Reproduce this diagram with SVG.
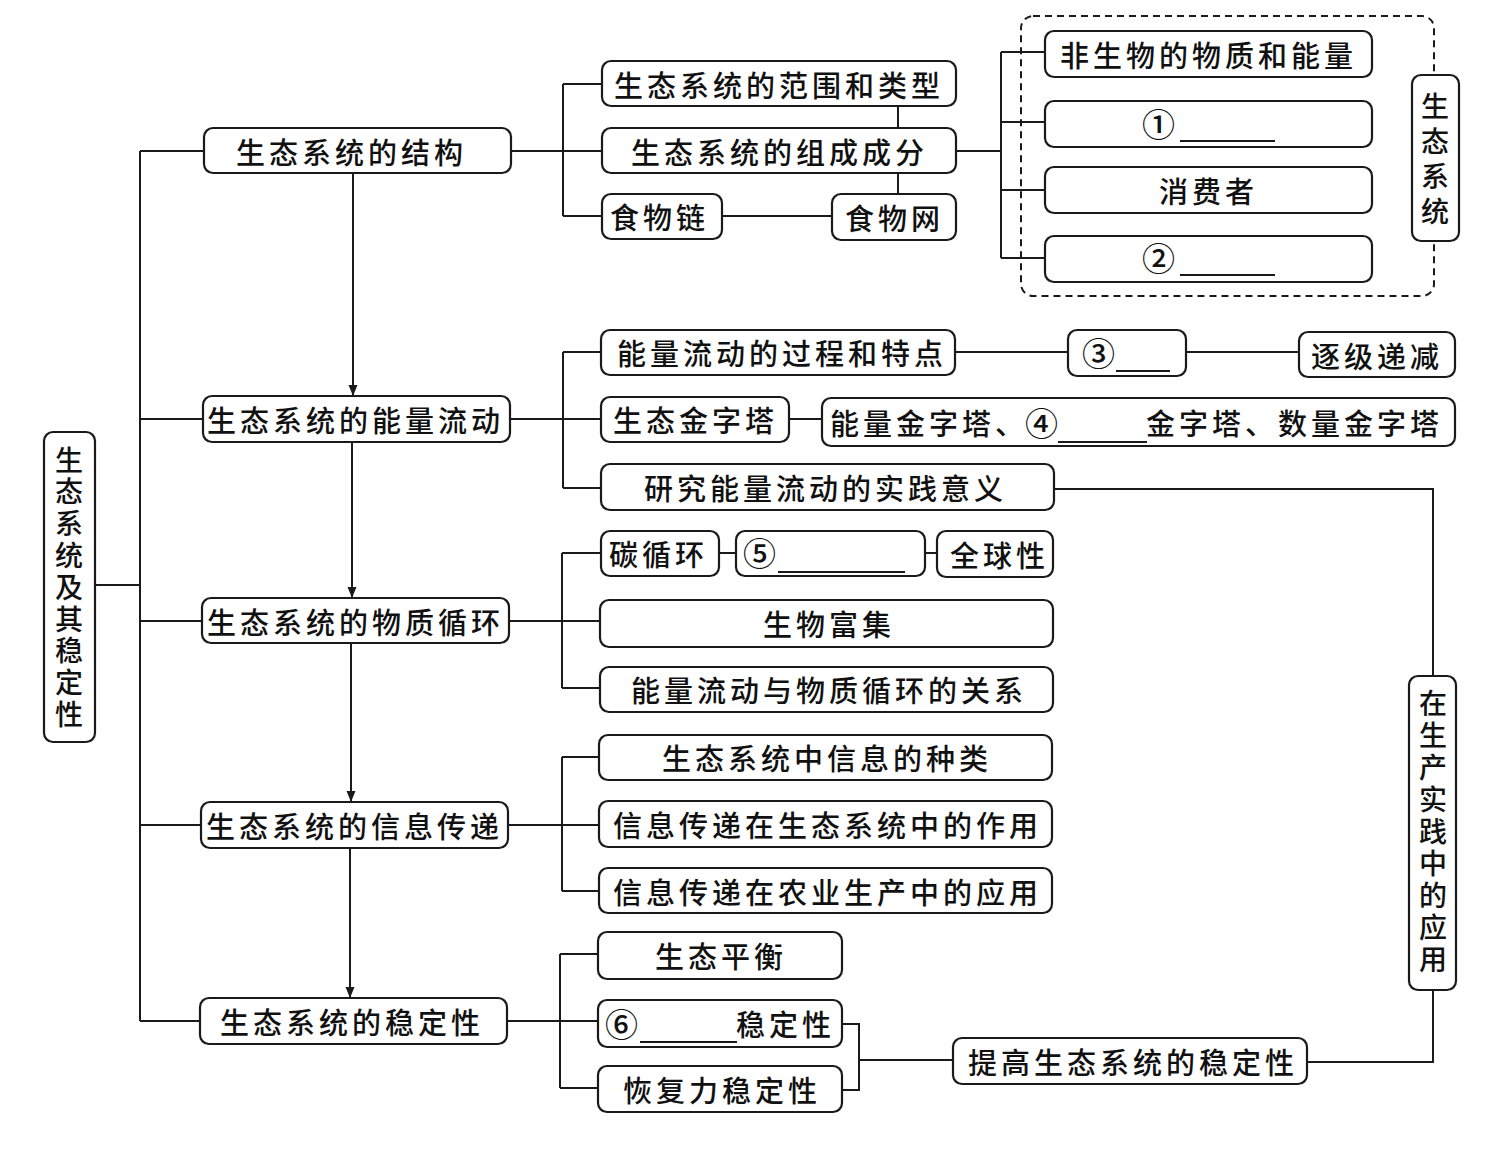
<svg xmlns="http://www.w3.org/2000/svg" width="1503" height="1154" viewBox="0 0 1503 1154">
<defs>
<style>
.b{fill:#fff;stroke:#1a1a1a;stroke-width:2.2}
.c{fill:none;stroke:#1a1a1a;stroke-width:2}
.u{stroke:#1a1a1a;stroke-width:2}
.t{font-family:"Noto Sans CJK SC","Noto Sans CJK JP",sans-serif;font-size:29px;font-weight:500;fill:#111;dominant-baseline:central;letter-spacing:4px}
.n{font-size:33px;letter-spacing:0}
.v{font-family:"Noto Sans CJK SC","Noto Sans CJK JP",sans-serif;font-size:28px;font-weight:500;fill:#111;writing-mode:vertical-rl;dominant-baseline:central}
</style>
<marker id="ah" markerUnits="userSpaceOnUse" markerWidth="12" markerHeight="12" viewBox="0 0 12 12" refX="11" refY="6" orient="auto">
<path d="M0,1.5 L11,6 L0,10.5 Z" fill="#1a1a1a"/>
</marker>
</defs>
<rect width="1503" height="1154" fill="#fff"/>

<g id="connectors">
<path class="c" d="M95,585 H140 M140,151 V1021 M140,151 H204 M140,419 H203 M140,621 H202 M140,825 H201 M140,1021 H200"/>
<path class="c" d="M353,173 V396" marker-end="url(#ah)"/>
<path class="c" d="M352,442 V598" marker-end="url(#ah)"/>
<path class="c" d="M351,643 V802" marker-end="url(#ah)"/>
<path class="c" d="M350,848 V998" marker-end="url(#ah)"/>
<path class="c" d="M511,151 H602 M563,84 V216 M563,84 H602 M563,216 H602 M722,216 H832 M898,106 V128 M898,173 V194"/>
<path class="c" d="M956,151 H1001 M1001,52 V258 M1001,52 H1045 M1001,122 H1045 M1001,190 H1045 M1001,258 H1045"/>
<path class="c" d="M510,419 H601 M563,352 V488 M563,352 H601 M563,488 H601 M789,419 H822 M955,352 H1068 M1186,352 H1299"/>
<path class="c" d="M1054,489 H1433 V676 M1433,990 V1062 H1307"/>
<path class="c" d="M509,621 H600 M562,553 V688 M562,553 H601 M562,688 H600 M719,553 H736 M925,553 H937"/>
<path class="c" d="M508,825 H599 M562,757 V891 M562,757 H599 M562,891 H599"/>
<path class="c" d="M507,1021 H598 M560,954 V1088 M560,954 H598 M560,1088 H598"/>
<path class="c" d="M842,1024 H859 V1090 H842 M859,1060 H953"/>
</g>

<g id="ecosystem-group">
<rect x="1021" y="16" width="413" height="280" rx="12" fill="none" stroke="#1a1a1a" stroke-width="2" stroke-dasharray="7 5"/>
</g>

<g id="root">
<rect class="b" x="44" y="432" width="51" height="310" rx="9"/>
<text class="v" x="69" y="446" style="letter-spacing:3.8px">生态系统及其稳定性</text>
</g>

<g id="structure"><rect class="b" x="204" y="128" width="307" height="45" rx="9"/><text class="t" x="236" y="151">生态系统的结构</text></g>
<g id="energy"><rect class="b" x="203" y="396" width="307" height="46" rx="9"/><text class="t" x="207" y="419">生态系统的能量流动</text></g>
<g id="matter"><rect class="b" x="202" y="598" width="307" height="45" rx="9"/><text class="t" x="207" y="621">生态系统的物质循环</text></g>
<g id="info"><rect class="b" x="201" y="802" width="307" height="46" rx="9"/><text class="t" x="206" y="825">生态系统的信息传递</text></g>
<g id="stability"><rect class="b" x="200" y="998" width="307" height="46" rx="9"/><text class="t" x="220" y="1021">生态系统的稳定性</text></g>

<g id="scope"><rect class="b" x="602" y="61" width="354" height="45" rx="9"/><text class="t" x="614" y="84">生态系统的范围和类型</text></g>
<g id="components"><rect class="b" x="602" y="128" width="354" height="45" rx="9"/><text class="t" x="631" y="151">生态系统的组成成分</text></g>
<g id="food-chain"><rect class="b" x="602" y="194" width="120" height="45" rx="9"/><text class="t" x="610" y="216">食物链</text></g>
<g id="food-web"><rect class="b" x="832" y="194" width="124" height="46" rx="9"/><text class="t" x="845" y="217">食物网</text></g>

<g id="abiotic"><rect class="b" x="1045" y="31" width="327" height="46" rx="9"/><text class="t" x="1060" y="54">非生物的物质和能量</text></g>
<g id="blank1"><rect class="b" x="1045" y="101" width="327" height="46" rx="9"/><text class="t n" x="1142" y="123">①</text><line class="u" x1="1180" y1="141" x2="1275" y2="141"/></g>
<g id="consumer"><rect class="b" x="1045" y="167" width="327" height="46" rx="9"/><text class="t" x="1159" y="190">消费者</text></g>
<g id="blank2"><rect class="b" x="1045" y="236" width="327" height="46" rx="9"/><text class="t n" x="1142" y="257">②</text><line class="u" x1="1180" y1="275" x2="1275" y2="275"/></g>
<g id="ecosystem-label"><rect class="b" x="1412" y="75" width="47" height="166" rx="9"/>
<text class="v" x="1435" y="92" style="letter-spacing:7px">生态系统</text></g>

<g id="process"><rect class="b" x="601" y="330" width="354" height="45" rx="9"/><text class="t" x="617" y="352">能量流动的过程和特点</text></g>
<g id="blank3"><rect class="b" x="1068" y="330" width="118" height="46" rx="9"/><text class="t n" x="1082" y="352">③</text><line class="u" x1="1116" y1="371" x2="1170" y2="371"/></g>
<g id="decrease"><rect class="b" x="1299" y="332" width="156" height="45" rx="9"/><text class="t" x="1311" y="355">逐级递减</text></g>
<g id="pyramid"><rect class="b" x="601" y="397" width="188" height="45" rx="9"/><text class="t" x="613" y="419">生态金字塔</text></g>
<g id="pyramids"><rect class="b" x="822" y="398" width="633" height="48" rx="9"/><text class="t" x="830" y="422">能量金字塔<tspan style="letter-spacing:0">、</tspan><tspan class="n" x="1025">④</tspan><tspan x="1146">金字塔、数量金字塔</tspan></text><line class="u" x1="1058" y1="442" x2="1147" y2="442"/></g>
<g id="significance"><rect class="b" x="601" y="464" width="453" height="46" rx="9"/><text class="t" x="644" y="487">研究能量流动的实践意义</text></g>

<g id="carbon"><rect class="b" x="601" y="531" width="118" height="45" rx="9"/><text class="t" x="609" y="553">碳循环</text></g>
<g id="blank5"><rect class="b" x="736" y="531" width="189" height="45" rx="9"/><text class="t n" x="743" y="552">⑤</text><line class="u" x1="778" y1="572" x2="905" y2="572"/></g>
<g id="global"><rect class="b" x="937" y="531" width="116" height="46" rx="9"/><text class="t" x="950" y="554">全球性</text></g>
<g id="bioaccum"><rect class="b" x="600" y="600" width="453" height="47" rx="9"/><text class="t" x="763" y="623">生物富集</text></g>
<g id="relation"><rect class="b" x="600" y="667" width="453" height="45" rx="9"/><text class="t" x="631" y="689">能量流动与物质循环的关系</text></g>

<g id="info-types"><rect class="b" x="599" y="735" width="453" height="45" rx="9"/><text class="t" x="662" y="757">生态系统中信息的种类</text></g>
<g id="info-role"><rect class="b" x="599" y="801" width="453" height="46" rx="9"/><text class="t" x="613" y="824">信息传递在生态系统中的作用</text></g>
<g id="info-agri"><rect class="b" x="599" y="868" width="453" height="45" rx="9"/><text class="t" x="613" y="891">信息传递在农业生产中的应用</text></g>

<g id="balance"><rect class="b" x="598" y="932" width="244" height="47" rx="9"/><text class="t" x="655" y="955">生态平衡</text></g>
<g id="blank6"><rect class="b" x="598" y="1000" width="244" height="47" rx="9"/><text class="t" x="605" y="1023"><tspan class="n">⑥</tspan><tspan x="736">稳定性</tspan></text><line class="u" x1="640" y1="1042" x2="737" y2="1042"/></g>
<g id="resilience"><rect class="b" x="598" y="1066" width="244" height="46" rx="9"/><text class="t" x="623" y="1089">恢复力稳定性</text></g>
<g id="improve"><rect class="b" x="953" y="1038" width="354" height="46" rx="9"/><text class="t" x="968" y="1061">提高生态系统的稳定性</text></g>

<g id="application"><rect class="b" x="1409" y="676" width="47" height="314" rx="9"/>
<text class="v" x="1433" y="689" style="letter-spacing:4.1px">在生产实践中的应用</text></g>
</svg>
